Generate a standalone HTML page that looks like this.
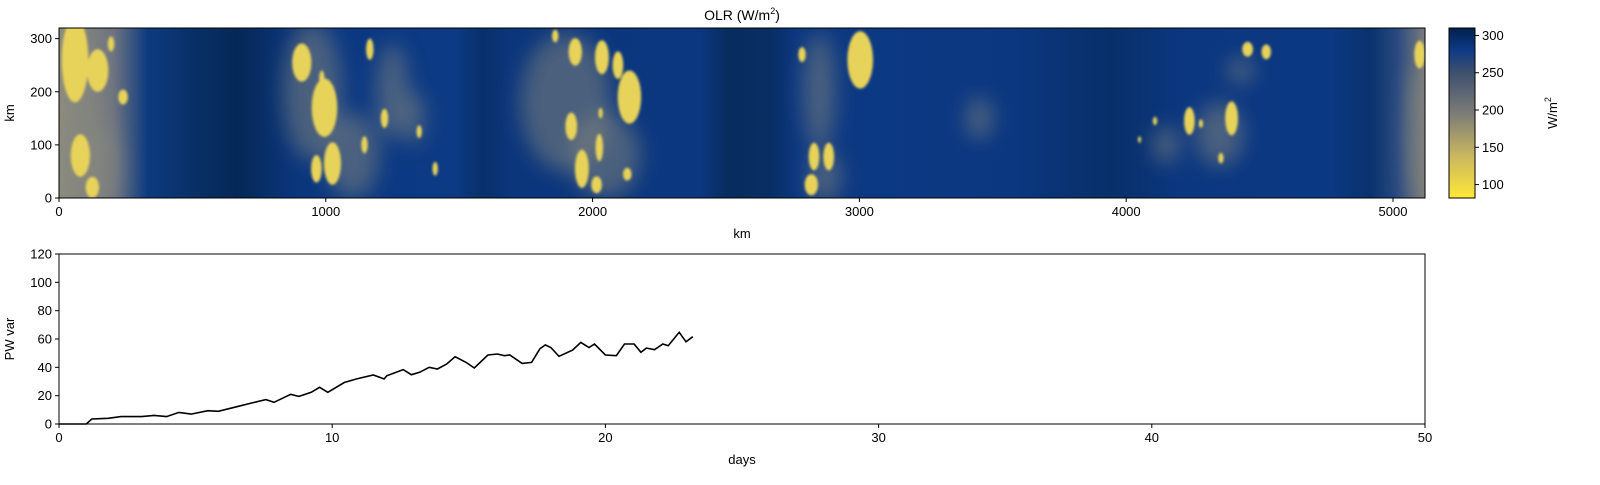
<!DOCTYPE html>
<html><head><meta charset="utf-8"><style>
body{margin:0;background:#fff;}
svg{font-family:"Liberation Sans","DejaVu Sans",sans-serif;}
text{fill:#000;}
</style></head><body>
<svg id="fig" width="1600" height="480" xmlns="http://www.w3.org/2000/svg">
<defs>
<linearGradient id="bg" x1="0" x2="1" y1="0" y2="0">
<stop offset="0" stop-color="#8c8c7e"/><stop offset="0.04" stop-color="#6e7480"/><stop offset="0.065" stop-color="#0c3a80"/>
<stop offset="0.1" stop-color="#083066"/><stop offset="0.13" stop-color="#062856"/><stop offset="0.17" stop-color="#0a357a"/>
<stop offset="0.2" stop-color="#0b3882"/><stop offset="0.29" stop-color="#0c3a84"/><stop offset="0.31" stop-color="#08306a"/>
<stop offset="0.33" stop-color="#0b367c"/><stop offset="0.47" stop-color="#0b3780"/><stop offset="0.49" stop-color="#072c5e"/>
<stop offset="0.52" stop-color="#082e64"/><stop offset="0.54" stop-color="#0b3780"/><stop offset="0.6" stop-color="#0c3984"/>
<stop offset="0.7" stop-color="#0b3780"/><stop offset="0.77" stop-color="#082f68"/><stop offset="0.82" stop-color="#0b3780"/>
<stop offset="0.93" stop-color="#0b3882"/><stop offset="0.96" stop-color="#09326e"/><stop offset="0.98" stop-color="#2a4a80"/><stop offset="1" stop-color="#7a7c7c"/>
</linearGradient>
<linearGradient id="cb" x1="0" x2="0" y1="1" y2="0">
<stop offset="0" stop-color="#fee838"/><stop offset="0.25" stop-color="#c9b65f"/><stop offset="0.5" stop-color="#7c7b78"/>
<stop offset="0.75" stop-color="#3a4e6e"/><stop offset="0.87" stop-color="#0d3a86"/><stop offset="1" stop-color="#00204c"/>
</linearGradient>
<filter id="gblur" x="-50%" y="-50%" width="200%" height="200%"><feGaussianBlur stdDeviation="10"/></filter>
<filter id="yblur" x="-50%" y="-50%" width="200%" height="200%"><feGaussianBlur stdDeviation="1.3"/></filter>
<clipPath id="hclip"><rect x="59" y="28" width="1366" height="170"/></clipPath>
</defs>
<text x="742" y="20" font-size="14" text-anchor="middle">OLR (W/m<tspan font-size="9" dy="-6">2</tspan><tspan dy="6">)</tspan></text>
<g clip-path="url(#hclip)">
<rect x="59" y="28" width="1366" height="170" fill="url(#bg)"/>
<g id="grayL" filter="url(#gblur)"></g>
<g id="yelL" filter="url(#yblur)"></g>
</g>
<rect x="59" y="28" width="1366" height="170" fill="none" stroke="#000" stroke-width="1"/>
<g id="hax"></g>
<text x="742" y="238" font-size="13" text-anchor="middle">km</text>
<text transform="translate(14,113) rotate(-90)" font-size="13" text-anchor="middle">km</text>
<rect x="1449" y="28" width="26" height="170" fill="url(#cb)" stroke="#000" stroke-width="1"/>
<g id="cax"></g>
<text transform="translate(1557,113) rotate(-90)" font-size="13" text-anchor="middle">W/m<tspan font-size="9" dy="-6">2</tspan></text>
<rect x="59" y="254" width="1366" height="170" fill="none" stroke="#000" stroke-width="1"/>
<g id="lax"></g>
<path id="pw" fill="none" stroke="#000" stroke-width="1.6"/>
<text x="742" y="464" font-size="13" text-anchor="middle">days</text>
<text transform="translate(14,339) rotate(-90)" font-size="13" text-anchor="middle">PW var</text>
</svg>
<script>
const days=[0,1.0,1.2,1.8,2.27,3.03,3.48,3.94,4.39,4.84,5.45,5.83,6.51,6.96,7.57,7.87,8.48,8.78,9.23,9.54,9.84,10.45,10.9,11.5,11.9,12,12.6,12.9,13.2,13.55,13.85,14.2,14.5,14.9,15.2,15.7,16.05,16.3,16.5,16.95,17.3,17.6,17.8,18,18.3,18.8,19.1,19.4,19.6,20,20.4,20.7,21.05,21.3,21.5,21.8,22.1,22.3,22.7,22.95,23.2];
const pwVar=[0,0,3.5,4,5.2,5.2,6.1,5.2,8.2,7,9.4,9,12.2,14.4,17.2,15.3,21,19.5,22.4,25.9,22.4,29.4,31.8,34.6,31.8,34,38.4,34.8,36.5,40,38.8,42.4,47.5,43.5,39.5,48.7,49.4,48.2,48.7,42.8,43.5,53,55.8,54,47.8,52.2,57.6,54,56.5,48.7,48.2,56.5,56.5,50.6,53.6,52.5,56.5,55.3,64.7,58,61.6];
const dayTicks=[0,10,20,30,40,50];
const pwTicks=[0,20,40,60,80,100,120];
const kmTicks=[0,1000,2000,3000,4000,5000];
const kmYTicks=[0,100,200,300];
const cbTicks=[100,150,200,250,300];
// blobs: [x km, y km, rx km, ry km]
const grayBlobs=[[60,160,100,170],[150,60,80,80],[950,200,110,130],[1100,80,100,80],[1250,200,60,90],[1900,180,170,130],[2050,80,130,80],[2850,200,60,110],[2870,40,60,50],[4350,120,90,60],[4150,100,50,35],[4430,240,50,25],[5100,120,50,130],[1330,150,40,50],[3450,150,50,40]];
const yellowBlobs=[[145,240,40,40],[80,80,36,40],[60,260,50,80],[240,190,18,14],[195,290,12,14],[125,20,25,20],[910,255,36,36],[985,225,10,15],[995,170,48,55],[1025,65,32,40],[965,55,20,26],[1165,280,14,20],[1220,150,14,18],[1145,100,12,16],[1350,125,10,12],[1410,55,10,13],[1935,275,25,26],[2035,265,26,32],[2095,250,20,26],[2138,190,44,50],[1920,135,22,26],[2025,95,14,26],[1960,55,26,36],[1860,305,12,12],[2030,160,8,10],[2785,270,14,14],[2830,78,20,26],[2885,78,20,26],[3003,260,48,54],[2820,25,25,20],[2015,25,20,16],[4395,150,24,32],[4237,145,20,26],[4280,140,8,8],[4355,75,10,10],[4455,280,20,14],[4525,275,18,14],[4108,145,8,8],[4050,110,6,6],[5100,270,20,26],[2130,45,16,12]];
const X0=59,X1=1425;
const kx=v=>X0+v/5120*(X1-X0);
const ky=v=>198-v/320*170;
const kr=v=>v/5120*(X1-X0);
const krY=v=>v/320*170;
const dx=d=>X0+d/50*(X1-X0);
const py=v=>424-v/120*170;
const cy=v=>198-(v-82)/(310-82)*170;
const NS='http://www.w3.org/2000/svg';
function mk(tag,parent,attrs){const e=document.createElementNS(NS,tag);for(const k in attrs)e.setAttribute(k,attrs[k]);parent.appendChild(e);return e;}
const gL=document.getElementById('grayL'),yL=document.getElementById('yelL');
grayBlobs.forEach(b=>{const e=mk('ellipse',gL,{cx:kx(b[0]),cy:ky(b[1]),rx:kr(b[2]),ry:krY(b[3]),fill:'#8a8a7e','fill-opacity':0.5});

});
yellowBlobs.forEach(b=>{const e=mk('ellipse',yL,{cx:kx(b[0]),cy:ky(b[1]),rx:kr(b[2]),ry:krY(b[3]),fill:'#e8d35a'});

});
const hax=document.getElementById('hax');
kmTicks.forEach(t=>{const x=kx(t);mk('line',hax,{x1:x,x2:x,y1:198,y2:202,stroke:'#000'});
const tx=mk('text',hax,{x:x,y:216,'font-size':13,'text-anchor':'middle'});tx.textContent=t;

});
kmYTicks.forEach(t=>{const y=ky(t);mk('line',hax,{x1:55,x2:59,y1:y,y2:y,stroke:'#000'});
const tx=mk('text',hax,{x:52,y:y+4.5,'font-size':13,'text-anchor':'end'});tx.textContent=t;

});
const cax=document.getElementById('cax');
cbTicks.forEach(t=>{const y=cy(t);mk('line',cax,{x1:1475,x2:1479,y1:y,y2:y,stroke:'#000'});
const tx=mk('text',cax,{x:1482,y:y+4.5,'font-size':13});tx.textContent=t;

});
const lax=document.getElementById('lax');
dayTicks.forEach(t=>{const x=dx(t);mk('line',lax,{x1:x,x2:x,y1:424,y2:428,stroke:'#000'});
const tx=mk('text',lax,{x:x,y:442,'font-size':13,'text-anchor':'middle'});tx.textContent=t;

});
pwTicks.forEach(t=>{const y=py(t);mk('line',lax,{x1:55,x2:59,y1:y,y2:y,stroke:'#000'});
const tx=mk('text',lax,{x:52,y:y+4.5,'font-size':13,'text-anchor':'end'});tx.textContent=t;

});
document.getElementById('pw').setAttribute('d',days.map((d,i)=>(i?'L':'M')+dx(d).toFixed(1)+','+py(pwVar[i]).toFixed(1)).join(''));
</script>
</body></html>
